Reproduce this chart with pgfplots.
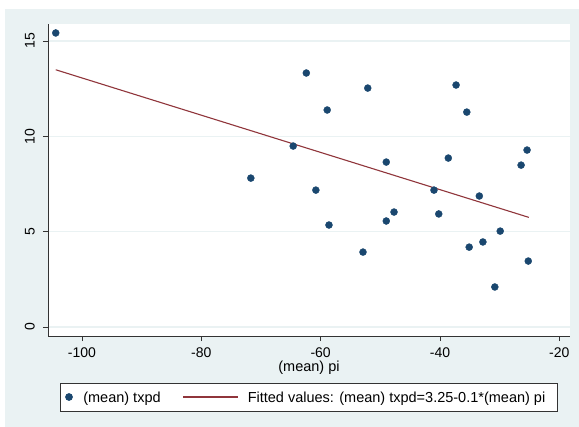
\documentclass[border=0pt]{standalone}
\usepackage{fontspec}
\setmainfont{Liberation Sans}
\usepackage{pgfplots}
\pgfplotsset{compat=1.18}
\definecolor{stbg}{HTML}{EAF2F3}
\definecolor{stnavy}{HTML}{1A476F}
\definecolor{stmaroon}{HTML}{90353B}

\begin{document}
\begin{tikzpicture}
  % page and outer graph region
  \fill[white] (-48bp,-91bp) rectangle (531bp,336bp);
  \fill[stbg] (-43bp,-91bp) rectangle (531bp,327bp);
  \begin{axis}[
      scale only axis,
      width=522bp, height=312bp,
      xmin=-105.7, xmax=-18.2,
      ymin=-0.47, ymax=15.89,
      axis x line*=bottom, axis y line*=left,
      axis line style={black!80, line width=0.8bp},
      axis background/.style={fill=white},
      tick align=outside,
      major tick length=5bp,
      tick style={black!80, line width=0.8bp},
      xtick={-100,-80,-60,-40,-20},
      xticklabels={-100,-80,-60,-40,-20},
      ytick={0,5,10,15},
      yticklabels={0,5,10,15},
      ymajorgrids,
      major grid style={stbg, line width=1.3bp},
      xticklabel style={font=\fontsize{14bp}{16bp}\selectfont, inner sep=0pt, anchor=north},
      yticklabel style={font=\fontsize{14bp}{16bp}\selectfont, rotate=90, anchor=south, inner sep=0pt},
      xticklabel shift=6.5bp,
      yticklabel shift=8bp,
      xlabel={(mean) pi},
      xlabel style={font=\fontsize{14.5bp}{16bp}\selectfont, at={(axis description cs:0.5,0)}, anchor=base, yshift=-35bp, inner sep=0pt},
      legend columns=2,
      legend cell align=left,
      legend style={at={(0.5,0)}, anchor=center, yshift=-61bp,
        draw=black!80, line width=0.6bp, fill=white,
        inner xsep=0pt, inner ysep=8.8bp,
        font=\fontsize{14.5bp}{16bp}\selectfont,
        nodes={inner sep=0pt, text height=10.4bp, text depth=0pt},
        /tikz/every even column/.append style={column sep=22bp}},
    ]
    \addplot[only marks, mark=*, mark size=3.5bp, color=stnavy,
      legend image code/.code={\path (-8bp,0) (14bp,0); \fill[stnavy] (0,0) circle (3.5bp);}]
      coordinates {
      (-104.4,15.42) (-71.7,7.81) (-64.6,9.49) (-62.4,13.32) (-60.8,7.18)
      (-58.9,11.38) (-58.6,5.35) (-52.9,3.93) (-52.1,12.53) (-49.0,8.65)
      (-49.0,5.56) (-47.7,6.03) (-41.0,7.18) (-40.2,5.93) (-38.6,8.86)
      (-37.3,12.69) (-35.5,11.27) (-35.1,4.19) (-33.4,6.87) (-32.8,4.46)
      (-30.8,2.10) (-29.9,5.03) (-26.4,8.49) (-25.4,9.28) (-25.2,3.46)
    };
    \addlegendentry{(mean) txpd}
    \addplot[stmaroon, line width=1.1bp, no marks,
      legend image code/.code={\path (0,0) (64bp,0); \draw[stmaroon, line width=1.1bp] (0,0) -- (55bp,0);}]
      coordinates {(-104.4,13.49) (-25.1,5.75)};
    \addlegendentry{Fitted values: (mean) txpd=3.25-0.1*(mean) pi\rule{12bp}{0pt}}
  \end{axis}
\end{tikzpicture}
\end{document}
